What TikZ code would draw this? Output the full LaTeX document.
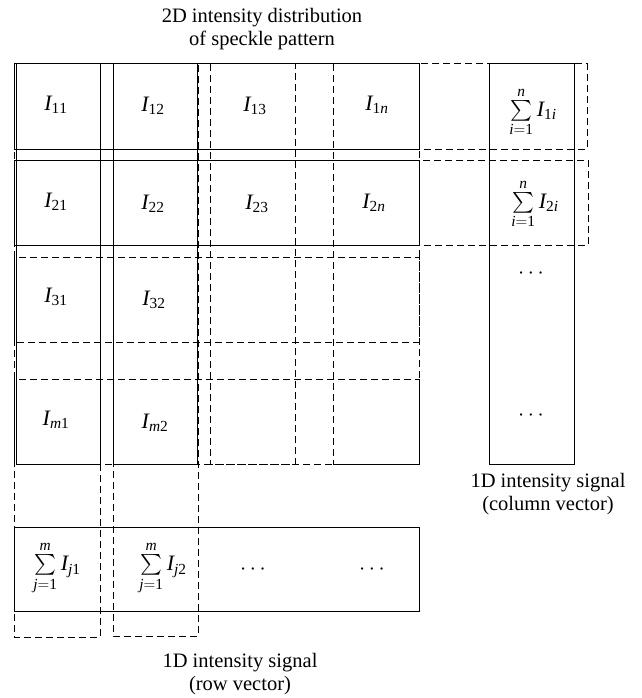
\RequirePackage{fix-cm}
\documentclass[tikz,border=0pt]{standalone}
\usepackage{exscale}
\usepackage{fontspec}
\setmainfont{Liberation Serif}
\newcommand\Iv{\mathit{I}}
\newcommand\rr[1]{\mathrm{#1}}
\newcommand\ii[1]{\mathit{#1}}
\begin{document}
\begin{tikzpicture}[x=1pt,y=-1pt,
  solidbox/.style={draw=black,line width=1pt},
  dashbox/.style={draw=black,line width=1pt,dash pattern=on 7pt off 4pt},
  cell/.style={inner sep=0pt,font=\fontsize{22}{24}\selectfont},
  lbl/.style={align=center,inner sep=0pt,font=\fontsize{20.5}{23}\selectfont}]
\useasboundingbox (0,0) rectangle (641,698);
% solid boxes
\draw[solidbox] (14,64) rectangle (419,149);
\draw[solidbox] (14,160) rectangle (419,245);
\draw[solidbox] (16,64) rectangle (100,464);
\draw[solidbox] (113,64) rectangle (197,464);
\draw[solidbox] (489,64) rectangle (574,464);
\draw[solidbox] (14,527) rectangle (419,611);
% dashed boxes
\draw[dashbox] (14,64) rectangle (587,149);
\draw[dashbox] (14,160) rectangle (588,245);
\draw[dashbox] (14,257) rectangle (419,342);
\draw[dashbox] (14,379) rectangle (419,464);
\draw[dashbox] (14,64) rectangle (100,637);
\draw[dashbox] (113,64) rectangle (198,636);
\draw[dashbox] (210,64) rectangle (295,464);
\draw[dashbox] (333,64) rectangle (419,464);
% cell labels
\node[cell] (a11) at (56,105) {$\Iv_{\rr{11}}$};
\node[cell] (a12) at (153,106) {$\Iv_{\rr{12}}$};
\node[cell] (a13) at (255,106) {$\Iv_{\rr{13}}$};
\node[cell] (a1n) at (377,105) {$\Iv_{\rr{1}\ii{n}}$};
\node[cell] (a21) at (56,202) {$\Iv_{\rr{21}}$};
\node[cell] (a22) at (153,204) {$\Iv_{\rr{22}}$};
\node[cell] (a23) at (257,204) {$\Iv_{\rr{23}}$};
\node[cell] (a2n) at (374,203) {$\Iv_{\rr{2}\ii{n}}$};
\node[cell] (a31) at (56,297) {$\Iv_{\rr{31}}$};
\node[cell] (a32) at (154,300) {$\Iv_{\rr{32}}$};
\node[cell] (am1) at (56,420) {$\Iv_{\ii{m}\rr{1}}$};
\node[cell] (am2) at (155,423) {$\Iv_{\ii{m}\rr{2}}$};
% column vector
\node[cell] (s1) at (533,112) {$\sum\limits_{\ii{i}=\rr{1}}^{\ii{n}} \Iv_{\rr{1}\ii{i}}$};
\node[cell] (s2) at (535,204) {$\sum\limits_{\ii{i}=\rr{1}}^{\ii{n}} \Iv_{\rr{2}\ii{i}}$};
\node[cell] (cd1) at (531,274) {$\cdots$};
\node[cell] (cd2) at (531,416) {$\cdots$};
% row vector
\node[cell] (r1) at (57,568) {$\sum\limits_{\ii{j}=\rr{1}}^{\ii{m}} \Iv_{\ii{j}\rr{1}}$};
\node[cell] (r2) at (163,568) {$\sum\limits_{\ii{j}=\rr{1}}^{\ii{m}} \Iv_{\ii{j}\rr{2}}$};
\node[cell] (rd1) at (253,570) {$\cdots$};
\node[cell] (rd2) at (372,570) {$\cdots$};
% labels
\node[lbl] (title) at (262,29) {2D intensity distribution\\of speckle pattern};
\node[lbl] (colv) at (548,494) {1D intensity signal\\(column vector)};
\node[lbl] (rowv) at (240,674) {1D intensity signal\\(row vector)};
\end{tikzpicture}
\end{document}
